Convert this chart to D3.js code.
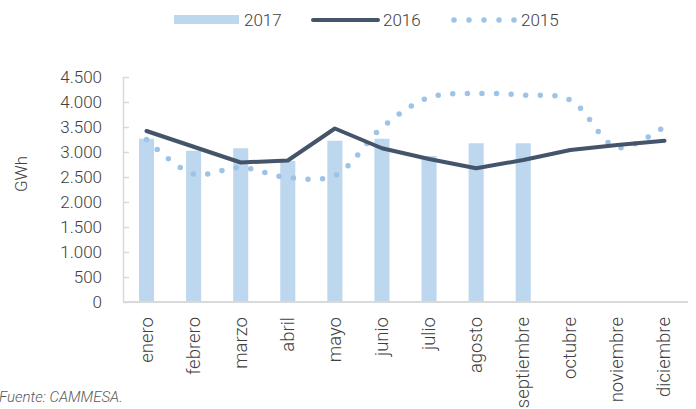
<!DOCTYPE html>
<html>
<head>
<meta charset="utf-8">
<script src="https://cdn.jsdelivr.net/npm/d3@7"></script>
<style>
  body { margin: 0; background: #fff; }
  svg text { font-family: Roboto, "Noto Sans", sans-serif; font-weight: 300; fill: #404040; }
</style>
</head>
<body>
<svg class="chart" width="696" height="409"></svg>
<script>
// data
const months = ["enero", "febrero", "marzo", "abril", "mayo", "junio", "julio",
                "agosto", "septiembre", "octubre", "noviembre", "diciembre"];
const values2017 = [3265, 3025, 3075, 2820, 3225, 3265, 2920, 3175, 3175];
const values2016 = [3420, 3105, 2790, 2830, 3470, 3075, 2860, 2675, 2840, 3040, 3140, 3225];
const values2015 = [3250, 2560, 2690, 2490, 2530, 3490, 4090, 4170, 4140, 4040, 3090, 3510];
const yTicks = [0, 500, 1000, 1500, 2000, 2500, 3000, 3500, 4000, 4500];

const svg = d3.select(".chart");

const plotLeft = 123, plotRight = 688, plotTop = 77, plotBottom = 302;

const x = d3.scaleBand()
    .domain(months)
    .range([plotLeft, plotRight])
    .paddingInner(0.68)
    .paddingOuter(0.34);

const y = d3.scaleLinear()
    .domain([0, 4500])
    .range([plotBottom, plotTop]);

const esFormat = d3.formatLocale({ decimal: ",", thousands: ".", grouping: [3], currency: ["$", ""] }).format(",.0f");

// bars 2017
svg.append("g")
    .selectAll("rect")
    .data(values2017)
    .join("rect")
    .attr("x", (d, i) => x(months[i]))
    .attr("y", d => y(d))
    .attr("width", x.bandwidth())
    .attr("height", d => y(0) - y(d))
    .style("fill", "#bdd7ee");

// y axis, ticks pointing inside
const yAxis = svg.append("g")
    .attr("transform", `translate(${plotLeft},0)`)
    .call(d3.axisLeft(y).tickValues(yTicks).tickFormat(esFormat)
        .tickSizeInner(-6).tickSizeOuter(0).tickPadding(21));
yAxis.select(".domain").style("stroke", "#d9d9d9").style("stroke-width", 1.5);
yAxis.selectAll(".tick line").style("stroke", "#d9d9d9").style("stroke-width", 1.5);
yAxis.selectAll(".tick text")
    .style("font-size", "17px")
    .style("font-family", "Roboto, sans-serif")
    .style("fill", "#404040");

// x baseline
svg.append("line")
    .attr("x1", plotLeft).attr("x2", plotRight)
    .attr("y1", y(0)).attr("y2", y(0))
    .style("stroke", "#d9d9d9")
    .style("stroke-width", 2);

const cx = m => x(m) + x.bandwidth() / 2;

// 2015 dotted smooth line
const smooth = d3.line()
    .x((d, i) => cx(months[i]))
    .y(d => y(d))
    .curve(d3.curveCatmullRom.alpha(0.5));

svg.append("path")
    .datum(values2015)
    .attr("d", smooth)
    .style("fill", "none")
    .style("stroke", "#9dc3e6")
    .style("stroke-width", 5.5)
    .style("stroke-linecap", "round")
    .style("stroke-dasharray", "0 14.6");

// 2016 line
const straight = d3.line()
    .x((d, i) => cx(months[i]))
    .y(d => y(d));

svg.append("path")
    .datum(values2016)
    .attr("d", straight)
    .style("fill", "none")
    .style("stroke", "#44546a")
    .style("stroke-width", 4)
    .style("stroke-linecap", "round")
    .style("stroke-linejoin", "round");

// month labels
svg.append("g")
    .selectAll("text")
    .data(months)
    .join("text")
    .attr("transform", d => `translate(${cx(d) + 6},317) rotate(-90)`)
    .attr("text-anchor", "end")
    .style("font-size", "18.5px")
    .text(d => d);

// y title
svg.append("text")
    .attr("transform", "translate(27,174) rotate(-90)")
    .attr("text-anchor", "middle")
    .style("font-size", "17px")
    .text("GWh");

// legend
svg.append("rect")
    .attr("x", 174).attr("y", 15)
    .attr("width", 65).attr("height", 9)
    .style("fill", "#bdd7ee");
svg.append("text").attr("x", 244).attr("y", 26).style("font-size", "17px").text("2017");

svg.append("line")
    .attr("x1", 313).attr("x2", 378).attr("y1", 20).attr("y2", 20)
    .style("stroke", "#44546a").style("stroke-width", 4).style("stroke-linecap", "round");
svg.append("text").attr("x", 383).attr("y", 26).style("font-size", "17px").text("2016");

svg.append("line")
    .attr("x1", 454).attr("x2", 515).attr("y1", 20).attr("y2", 20)
    .style("stroke", "#9dc3e6").style("stroke-width", 5.5)
    .style("stroke-linecap", "round").style("stroke-dasharray", "0 15");
svg.append("text").attr("x", 521).attr("y", 26).style("font-size", "17px").text("2015");

// source note
svg.append("text")
    .attr("x", -1).attr("y", 402)
    .style("font-size", "15px")
    .style("font-style", "italic")
    .style("fill", "#595959")
    .text("Fuente: CAMMESA.");
</script>
</body>
</html>
